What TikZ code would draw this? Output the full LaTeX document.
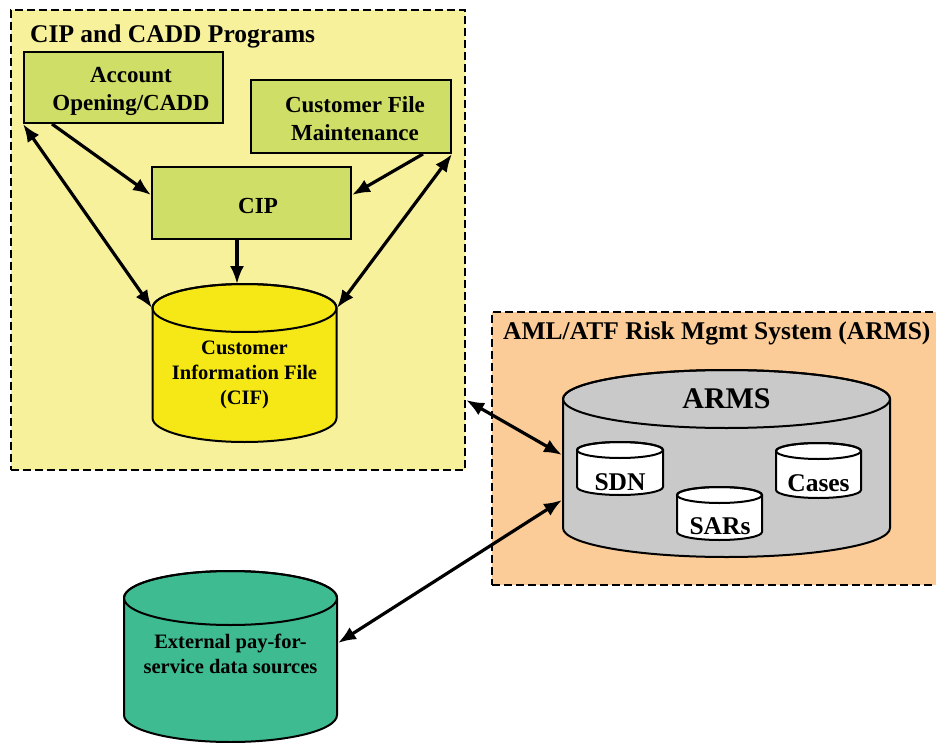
\documentclass[tikz,border=0pt]{standalone}
\usepackage{fontspec}
\setmainfont{Liberation Serif}
\usetikzlibrary{arrows.meta,calc}

\definecolor{paleyellow}{HTML}{F8F19C}
\definecolor{boxgreen}{HTML}{CFDE66}
\definecolor{cifyellow}{HTML}{F5E816}
\definecolor{paleorange}{HTML}{FBCB98}
\definecolor{armsgrey}{HTML}{C9C9C9}
\definecolor{extgreen}{HTML}{3FBB91}

% drum: centre x, x radius, top ellipse y, bottom ellipse y, y radius, fill
\newcommand{\drum}[6]{%
  \filldraw[fill=#6, line width=2pt]
    (#1-#2,#3) -- (#1-#2,#4)
    arc[start angle=180, end angle=360, x radius=#2pt, y radius=#5pt]
    -- (#1+#2,#3)
    arc[start angle=0, end angle=180, x radius=#2pt, y radius=#5pt] -- cycle;
  \draw[line width=2pt] (#1,#3) ellipse[x radius=#2pt, y radius=#5pt];
}

\tikzset{
  groupbox/.style={draw, dashed, dash pattern=on 8pt off 4pt, line width=2.2pt, inner sep=0pt},
  progbox/.style={draw, fill=boxgreen, line width=2pt, inner sep=0pt},
  label/.style={font=\bfseries\fontsize{23}{28}\selectfont, align=center, inner sep=0pt},
  cyltext/.style={font=\bfseries\fontsize{20.5}{25}\selectfont, align=center, inner sep=0pt},
  title/.style={font=\bfseries\fontsize{25.5}{28}\selectfont, anchor=west, inner sep=0pt},
  storetext/.style={font=\bfseries\fontsize{25.5}{28}\selectfont, inner sep=0pt},
  flow/.style={-{Latex[length=18pt,width=14pt]}, line width=3.2pt},
  both/.style={{Latex[length=18pt,width=14pt]}-{Latex[length=18pt,width=14pt]}, line width=3.2pt}
}

\begin{document}
\begin{tikzpicture}[x=1pt,y=1pt]
\useasboundingbox (0,0) rectangle (936,-743);

% group frames
\node[groupbox, fill=paleyellow, minimum width=454pt, minimum height=460pt] (grp) at (238,-240) {};
\node[title] (grptitle) at (30,-36) {CIP and CADD Programs};

\node[groupbox, fill=paleorange, minimum width=450pt, minimum height=273pt] (armsgrp) at (717,-448.5) {};
\node[title] (armstitle) at (503,-333) {AML/ATF Risk Mgmt System (ARMS)};

% programs
\node[progbox, minimum width=199pt, minimum height=71pt] (ao) at (123.5,-87.5) {};
\node[label] (aotext) at (131,-91) {Account\\Opening/CADD};
\node[progbox, minimum width=200pt, minimum height=73pt] (cfm) at (351,-116.5) {};
\node[label] (cfmtext) at (355,-119) {Customer File\\Maintenance};
\node[progbox, minimum width=199pt, minimum height=72pt] (cip) at (251.5,-203) {};
\node[label] (ciptext) at (258,-206) {CIP};

% customer information file
\drum{244.5}{92}{-308}{-418}{24}{cifyellow}
\node[cyltext] (cif) at (244.5,-375) {Customer\\Information File\\(CIF)};
\coordinate (cifleft) at (152,-308);
\coordinate (cifright) at (337,-308);
\coordinate (ciftop) at (237,-284);

% ARMS store with its inner stores
\drum{726.5}{163.5}{-399}{-528}{29}{armsgrey}
\node[font=\bfseries\fontsize{30}{34}\selectfont, inner sep=0pt] (arms) at (726.5,-399) {ARMS};
\drum{620}{43}{-450}{-487}{8}{white}
\node[storetext] (sdn) at (620,-482) {SDN};
\drum{719.5}{42.5}{-495}{-532}{8}{white}
\node[storetext] (sars) at (720,-526) {SARs};
\drum{818.5}{42.5}{-451}{-490}{8}{white}
\node[storetext] (cases) at (818.5,-483) {Cases};
\coordinate (armsin1) at (562,-455);
\coordinate (armsin2) at (562,-500);

% external data sources
\drum{230.5}{106.5}{-598}{-715}{27}{extgreen}
\node[cyltext] (ext) at (230.5,-654) {External pay-for-\\service data sources};
\coordinate (extright) at (338,-643);

% connectors
\draw[both] (ao.south west) -- (cifleft);
\draw[flow] ([xshift=29pt]ao.south west) -- ([yshift=8pt]cip.west);
\draw[flow] ([xshift=-29pt]cfm.south east) -- ([yshift=8pt]cip.east);
\draw[both] (cfm.south east) -- (cifright);
\draw[flow] ([xshift=-14.5pt]cip.south) -- (ciftop);
\draw[both] ([yshift=-160pt]grp.east) -- (armsin1);
\draw[both] (extright) -- (armsin2);
\end{tikzpicture}
\end{document}
